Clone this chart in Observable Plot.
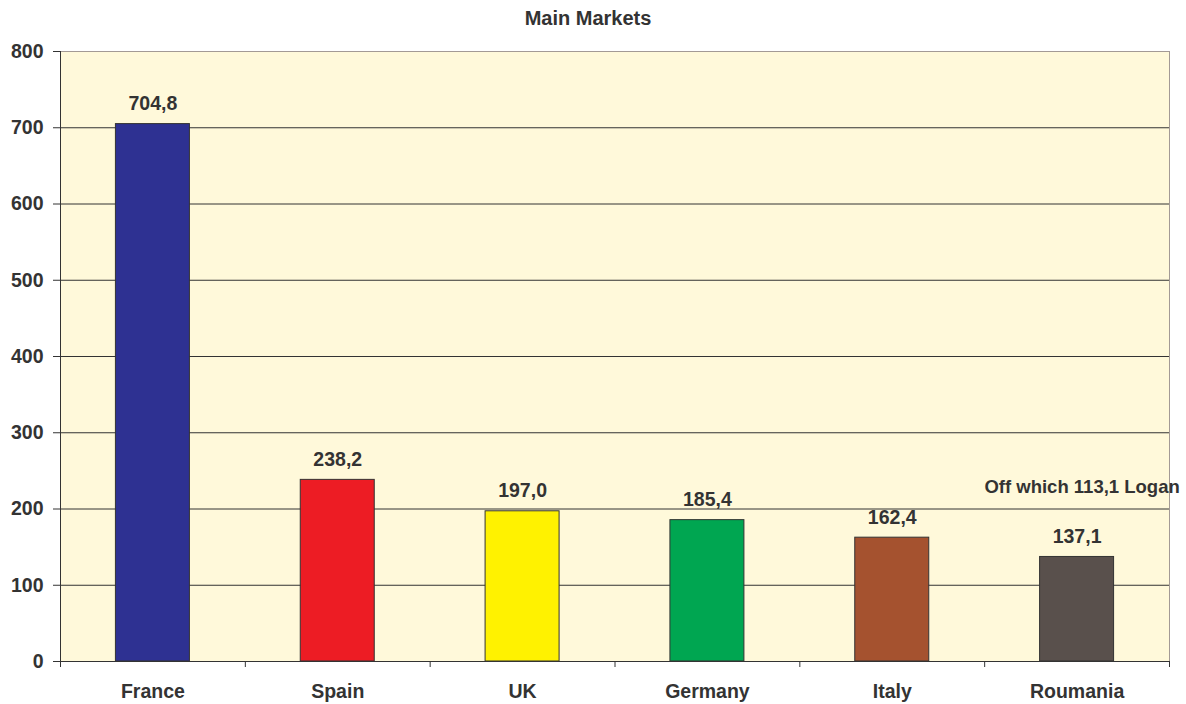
<!DOCTYPE html>
<html><head><meta charset="utf-8">
<script src="https://cdn.jsdelivr.net/npm/d3@7"></script>
<script src="https://cdn.jsdelivr.net/npm/@observablehq/plot@0.6"></script>
<style>
body{margin:0;background:#fff;font-family:"Liberation Sans",Arial,sans-serif}
#title{width:1176px;height:36px;line-height:36px;text-align:center;font-weight:bold;font-size:20px;color:#333;}
</style></head><body>
<div id="title">Main Markets</div>
<div id="chart"></div>
<script>
const markets = ["France","Spain","UK","Germany","Italy","Roumania"];
const values = [704.8, 238.2, 197.0, 185.4, 162.4, 137.1];
const valueLabels = ["704,8","238,2","197,0","185,4","162,4","137,1"];
const barColors = ["#2E3192","#ED1C24","#FFF200","#00A651","#A5522F","#59504C"];
const yTicks = [0,100,200,300,400,500,600,700,800];
const noteTexts = ["Off which 113,1 Logan"];
const noteMarkets = ["Roumania"];
const noteValues = [221];

const data = markets.map((m,i)=>({market:m, value:values[i], label:valueLabels[i], color:barColors[i]}));
const notes = noteTexts.map((t,i)=>({text:t, market:noteMarkets[i], value:noteValues[i]}));

const W=1186, H=668, mL=60, mR=17;
const step=(W-mL-mR)/markets.length;
const barW=74;
const inset=(step-barW)/2;
const txt="#333";
const fs=19.5;

const chart = Plot.plot({
  width:W, height:H, marginTop:15, marginBottom:43, marginLeft:mL, marginRight:mR,
  style:{fontFamily:'"Liberation Sans",Arial,sans-serif', fontSize:fs+"px", fontWeight:"bold", color:txt, background:"transparent", overflow:"visible"},
  x:{domain:markets, padding:0, round:false, label:null},
  y:{domain:[0,800], label:null},
  color:{type:"identity"},
  marks:[
    Plot.frame({fill:"#FFF9DA", stroke:"#A39A95"}),
    Plot.gridY(yTicks.filter(t=>t>0 && t<800), {stroke:"#333", strokeOpacity:1}),
    Plot.barY(data, {x:"market", y:"value", fill:"color", stroke:"#333", strokeWidth:1, insetLeft:inset, insetRight:inset}),
    Plot.ruleY([0], {stroke:"#333"}),
    Plot.ruleX([markets[0]], {x:d=>d, dx:-step/2, stroke:"#333"}),
    Plot.ruleX(markets, {x:d=>d, dx:-step/2, y1:0, y2:0, insetBottom:-6, stroke:"#333"}),
    Plot.ruleX([markets[markets.length-1]], {x:d=>d, dx:step/2, y1:0, y2:0, insetBottom:-6, stroke:"#333"}),
    Plot.axisY({ticks:yTicks, tickSize:7, tickPadding:10, tickFormat:d=>String(d), stroke:"#333", fontSize:fs, fontWeight:"bold"}),
    Plot.axisX({tickSize:0, tickPadding:23, fontSize:fs, fontWeight:"bold"}),
    Plot.text(data, {x:"market", y:"value", text:"label", lineAnchor:"bottom", dy:-14, fill:txt, fontSize:fs, fontWeight:"bold"}),
    Plot.text(notes, {x:"market", y:"value", text:"text", dx:5, lineAnchor:"bottom", fill:txt, fontSize:18.5, fontWeight:"bold"})
  ]
});
document.getElementById("chart").appendChild(chart);
</script>
</body></html>
